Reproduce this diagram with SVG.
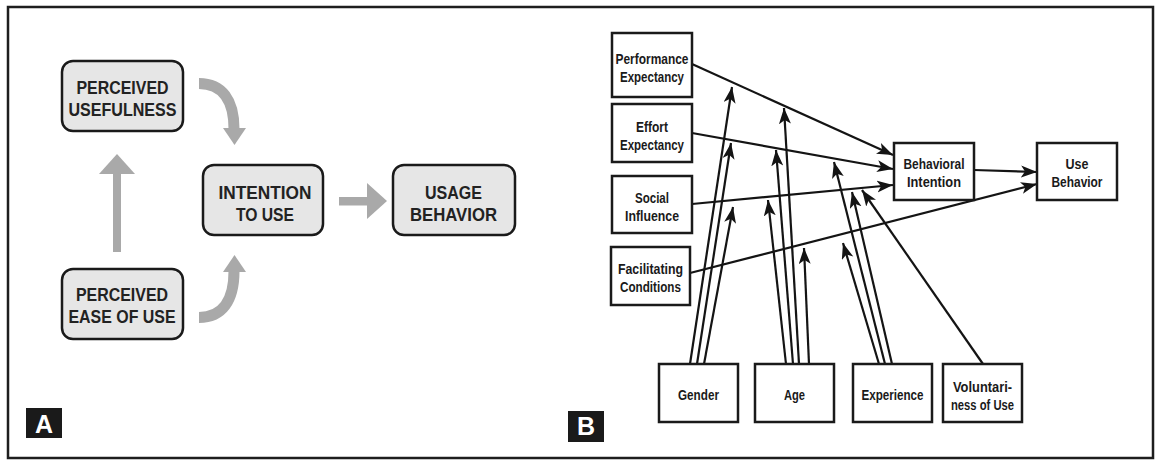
<svg xmlns="http://www.w3.org/2000/svg" width="1155" height="460" viewBox="0 0 1155 460">
<style>
.frame{fill:#fff;stroke:#1e1e1e;stroke-width:2.5}
.abox{fill:#e6e6e6;stroke:#1a1a1a;stroke-width:2.5}
.at{font-family:"Liberation Sans",Arial,sans-serif;font-weight:bold;font-size:19px;fill:#222;text-anchor:middle}
.bbox{fill:#fff;stroke:#1a1a1a;stroke-width:2.5}
.bt{font-family:"Liberation Sans",Arial,sans-serif;font-weight:bold;font-size:15px;fill:#1a1a1a;text-anchor:middle}
.garrow{fill:#a9a9a9}
.gcurve{fill:none;stroke:#a9a9a9;stroke-width:11}
.conn{fill:none;stroke:#141414;stroke-width:2.2;marker-end:url(#ah)}
.tag{fill:#1a1a1a}
.tagt{font-family:"Liberation Sans",sans-serif;font-weight:bold;font-size:25px;fill:#fff;text-anchor:middle}
</style>
<defs>
<marker id="ah" markerUnits="userSpaceOnUse" markerWidth="17" markerHeight="13" refX="16" refY="6" orient="auto">
<path d="M0,0 L16,6 L0,12 L4,6 z" fill="#141414"/>
</marker>
</defs>
<rect class="frame" x="8" y="7" width="1145" height="451"/>

<!-- Panel A -->
<g id="a-connectors">
<rect class="garrow" x="113" y="172" width="8" height="80"/>
<polygon class="garrow" points="99,174 135,174 117,154"/>
<path class="gcurve" d="M199,83.5 C222,83.5 234,100 234,129"/>
<polygon class="garrow" points="223,128 246,128 234.5,145"/>
<path class="gcurve" d="M199,317.5 C222,317.5 234,301 234,271"/>
<polygon class="garrow" points="223,272 246,272 234.5,255"/>
<rect class="garrow" x="339" y="197" width="30" height="8.5"/>
<polygon class="garrow" points="367,183 367,219 387,201"/>
</g>
<g id="a-pu">
<rect class="abox" x="62" y="61" width="121" height="70" rx="11"/>
<text class="at" x="122.5" y="94" textLength="92" lengthAdjust="spacingAndGlyphs">PERCEIVED</text>
<text class="at" x="122.5" y="116" textLength="108" lengthAdjust="spacingAndGlyphs">USEFULNESS</text>
</g>
<g id="a-peou">
<rect class="abox" x="62" y="269" width="121" height="70" rx="11"/>
<text class="at" x="122" y="301" textLength="92" lengthAdjust="spacingAndGlyphs">PERCEIVED</text>
<text class="at" x="122" y="323" textLength="107" lengthAdjust="spacingAndGlyphs">EASE OF USE</text>
</g>
<g id="a-itu">
<rect class="abox" x="203" y="165" width="120" height="70" rx="11"/>
<text class="at" x="265" y="199" textLength="93" lengthAdjust="spacingAndGlyphs">INTENTION</text>
<text class="at" x="265" y="221" textLength="58" lengthAdjust="spacingAndGlyphs">TO USE</text>
</g>
<g id="a-ub">
<rect class="abox" x="393" y="165" width="122" height="70" rx="11"/>
<text class="at" x="453.5" y="199" textLength="57" lengthAdjust="spacingAndGlyphs">USAGE</text>
<text class="at" x="453.5" y="221" textLength="87" lengthAdjust="spacingAndGlyphs">BEHAVIOR</text>
</g>
<g id="tag-a">
<rect class="tag" x="26" y="408" width="36" height="30"/>
<text class="tagt" x="44" y="433">A</text>
</g>

<!-- Panel B -->
<g id="b-connectors">
<path class="conn" d="M692,64 L893,155"/>
<path class="conn" d="M692,133 L893,169"/>
<path class="conn" d="M692,204 L893,185"/>
<path class="conn" d="M690,273 L1037,184"/>
<path class="conn" d="M974,170 L1037,172"/>
<path class="conn" d="M690,364 L732,87"/>
<path class="conn" d="M697,364 L731,143"/>
<path class="conn" d="M704,364 L733,207"/>
<path class="conn" d="M786,364 L768,200"/>
<path class="conn" d="M793,364 L776,150"/>
<path class="conn" d="M799,364 L784,108"/>
<path class="conn" d="M809,364 L804,248"/>
<path class="conn" d="M879,364 L843,243"/>
<path class="conn" d="M885,364 L834,162"/>
<path class="conn" d="M892,364 L852,192"/>
<path class="conn" d="M983,364 L862,190"/>
</g>
<g id="b-pe">
<rect class="bbox" x="612" y="33" width="80" height="64"/>
<text class="bt" x="652" y="64" textLength="73" lengthAdjust="spacingAndGlyphs">Performance</text>
<text class="bt" x="652" y="81.5" textLength="64" lengthAdjust="spacingAndGlyphs">Expectancy</text>
</g>
<g id="b-ee">
<rect class="bbox" x="612" y="104" width="80" height="58"/>
<text class="bt" x="652" y="132" textLength="32" lengthAdjust="spacingAndGlyphs">Effort</text>
<text class="bt" x="652" y="149.5" textLength="64" lengthAdjust="spacingAndGlyphs">Expectancy</text>
</g>
<g id="b-si">
<rect class="bbox" x="612" y="176" width="80" height="57"/>
<text class="bt" x="652" y="203" textLength="34" lengthAdjust="spacingAndGlyphs">Social</text>
<text class="bt" x="652" y="220.5" textLength="54" lengthAdjust="spacingAndGlyphs">Influence</text>
</g>
<g id="b-fc">
<rect class="bbox" x="611" y="247" width="79" height="58"/>
<text class="bt" x="650.5" y="274" textLength="65" lengthAdjust="spacingAndGlyphs">Facilitating</text>
<text class="bt" x="650.5" y="291.5" textLength="61" lengthAdjust="spacingAndGlyphs">Conditions</text>
</g>
<g id="b-bi">
<rect class="bbox" x="894" y="143" width="80" height="57"/>
<text class="bt" x="934" y="169" textLength="61" lengthAdjust="spacingAndGlyphs">Behavioral</text>
<text class="bt" x="934" y="187" textLength="54" lengthAdjust="spacingAndGlyphs">Intention</text>
</g>
<g id="b-ub">
<rect class="bbox" x="1037" y="143" width="80" height="57"/>
<text class="bt" x="1077" y="169" textLength="23" lengthAdjust="spacingAndGlyphs">Use</text>
<text class="bt" x="1077" y="187" textLength="51" lengthAdjust="spacingAndGlyphs">Behavior</text>
</g>
<g id="b-gender">
<rect class="bbox" x="659" y="364" width="79" height="58"/>
<text class="bt" x="698.5" y="400" textLength="41" lengthAdjust="spacingAndGlyphs">Gender</text>
</g>
<g id="b-age">
<rect class="bbox" x="755" y="364" width="79" height="58"/>
<text class="bt" x="794.5" y="400" textLength="21" lengthAdjust="spacingAndGlyphs">Age</text>
</g>
<g id="b-exp">
<rect class="bbox" x="853" y="364" width="79" height="58"/>
<text class="bt" x="892.5" y="400" textLength="62" lengthAdjust="spacingAndGlyphs">Experience</text>
</g>
<g id="b-vol">
<rect class="bbox" x="943" y="364" width="79" height="58"/>
<text class="bt" x="982.5" y="392" textLength="59" lengthAdjust="spacingAndGlyphs">Voluntari-</text>
<text class="bt" x="982.5" y="409.5" textLength="63" lengthAdjust="spacingAndGlyphs">ness of Use</text>
</g>
<g id="tag-b">
<rect class="tag" x="568" y="411" width="36" height="31"/>
<text class="tagt" x="586" y="435">B</text>
</g>
</svg>
